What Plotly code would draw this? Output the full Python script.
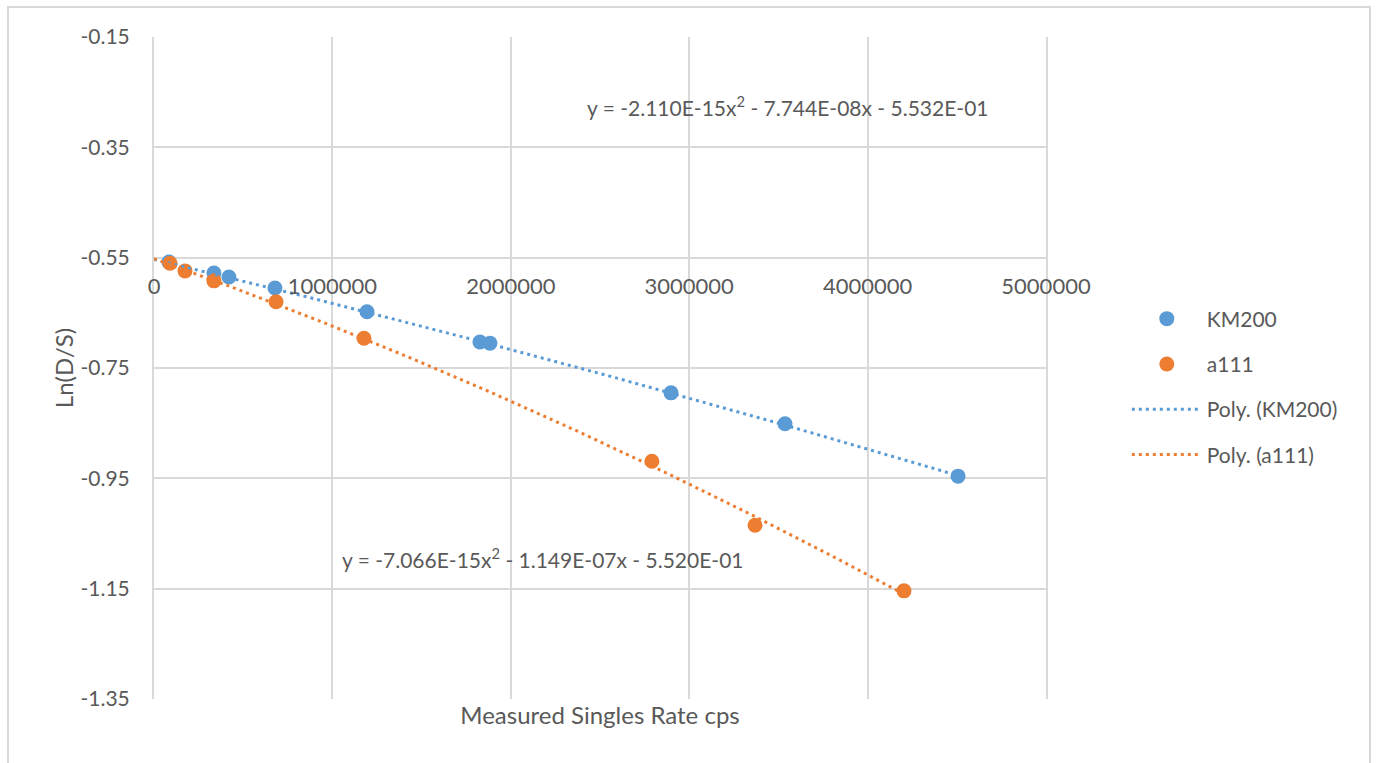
import numpy as np
import plotly.graph_objects as go

# ---- data ----
km200_x = [84000, 336000, 420000, 678000, 1194000, 1827000, 1883000, 2898000, 3537000, 4507000]
km200_y = [-0.558, -0.578, -0.585, -0.605, -0.648, -0.703, -0.705, -0.795, -0.851, -0.946]
a111_x = [90000, 174000, 336000, 684000, 1177000, 2791000, 3369000, 4204000]
a111_y = [-0.560, -0.574, -0.592, -0.630, -0.696, -0.919, -1.035, -1.154]

# trendline coefficients shown on the chart (a, b, c for a*x^2 + b*x + c)
km200_coef = [-2.110e-15, -7.744e-08, -5.532e-01]
a111_coef = [-7.066e-15, -1.149e-07, -5.520e-01]
km200_eq = "y = -2.110E-15x<sup>2</sup> - 7.744E-08x - 5.532E-01"
a111_eq = "y = -7.066E-15x<sup>2</sup> - 1.149E-07x - 5.520E-01"

x_ticks = [0, 1000000, 2000000, 3000000, 4000000, 5000000]
x_ticktext = ["0", "1000000", "2000000", "3000000", "4000000", "5000000"]
y_ticks = [-0.15, -0.35, -0.55, -0.75, -0.95, -1.15, -1.35]
y_ticktext = ["-0.15", "-0.35", "-0.55", "-0.75", "-0.95", "-1.15", "-1.35"]

BLUE = "#5B9BD5"
ORANGE = "#ED7D31"
TXT = "#595959"
GRID = "#D9D9D9"
FONT = "Lato"

def trend(coef, xmin, xmax):
    xs = np.linspace(xmin, xmax, 200)
    return xs, np.polyval(coef, xs)

kx, ky = trend(km200_coef, 0, max(km200_x))
ax, ay = trend(a111_coef, 0, max(a111_x))

fig = go.Figure()
# trendlines first so the markers sit on top
fig.add_trace(go.Scatter(x=kx, y=ky, mode="lines", name="Poly. (KM200)", xaxis="x2",
                         line=dict(color=BLUE, width=3, dash="3px,4px"),
                         legendgroup="g3", legendrank=3))
fig.add_trace(go.Scatter(x=ax, y=ay, mode="lines", name="Poly. (a111)", xaxis="x2",
                         line=dict(color=ORANGE, width=3, dash="3px,4px"),
                         legendgroup="g4", legendrank=4))
fig.add_trace(go.Scatter(x=km200_x, y=km200_y, mode="markers", name="KM200",
                         marker=dict(color=BLUE, size=15),
                         legendgroup="g1", legendrank=1))
fig.add_trace(go.Scatter(x=a111_x, y=a111_y, mode="markers", name="a111",
                         marker=dict(color=ORANGE, size=15),
                         legendgroup="g2", legendrank=2))

fig.update_layout(
    width=1377, height=763,
    margin=dict(l=154, r=331, t=37, b=64, autoexpand=False),
    paper_bgcolor="white", plot_bgcolor="white",
    font=dict(family=FONT, color=TXT, size=21),
    showlegend=True,
    legend=dict(x=1.0906, y=0.605, xanchor="left", yanchor="top",
                traceorder="grouped", tracegroupgap=15,
                font=dict(size=21, color=TXT), itemwidth=70,
                bgcolor="rgba(0,0,0,0)"),
    xaxis=dict(range=[0, 5000000], tickvals=x_ticks, showticklabels=False,
               showgrid=True, gridcolor=GRID, gridwidth=2, zeroline=False,
               showline=False, ticks="",
               title=dict(text="Measured Singles Rate cps", standoff=8,
                          font=dict(size=24, color=TXT))),
    xaxis2=dict(overlaying="x", matches="x", anchor="free", position=(-0.55 + 1.35) / 1.2,
                side="bottom", tickvals=x_ticks, ticktext=x_ticktext,
                showgrid=False, zeroline=False, showline=False, ticks="",
                ticklabelstandoff=13, tickfont=dict(size=22, color=TXT)),
    yaxis=dict(range=[-1.35, -0.15], tickvals=y_ticks, ticktext=y_ticktext,
               showgrid=True, gridcolor=GRID, gridwidth=2, zeroline=False,
               showline=True, mirror=True, linecolor=GRID, linewidth=2,
               ticks="", ticklabelstandoff=18,
               tickfont=dict(size=21, color=TXT),
               title=dict(text="Ln(D/S)", standoff=0, font=dict(size=24, color=TXT))),
)

fig.add_annotation(x=3554000, y=-0.275, xref="x", yref="y", text=km200_eq,
                   showarrow=False, font=dict(size=21, color=TXT))
fig.add_annotation(x=2180000, y=-1.094, xref="x", yref="y", text=a111_eq,
                   showarrow=False, font=dict(size=21, color=TXT))

# outer chart border
fig.add_shape(type="rect", xref="paper", yref="paper",
              x0=(8 - 154) / 892, x1=(1370 - 154) / 892,
              y0=(699 - 775) / 662, y1=(699 - 7) / 662,
              line=dict(color=GRID, width=2), layer="below")

fig.write_html("out.html")
